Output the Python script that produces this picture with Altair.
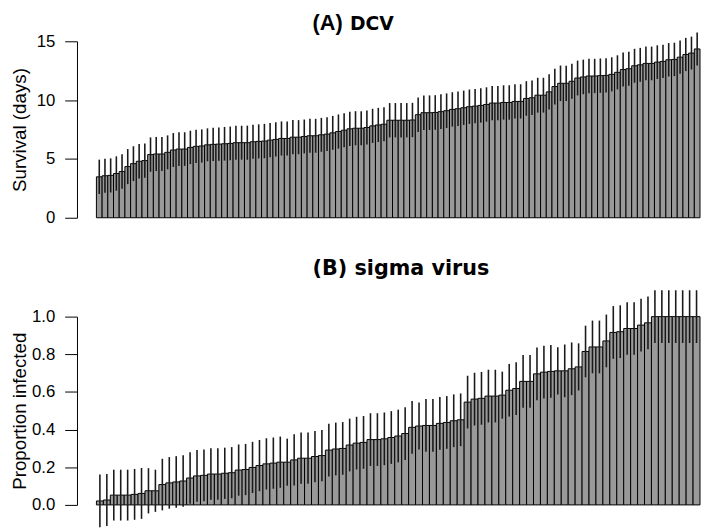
import altair as alt
import pandas as pd

# (A) DCV: mean survival (days) per line, sorted, and its standard error
dcv_mean = [3.48, 3.57, 3.60, 3.76, 3.93, 4.35, 4.60, 4.80, 4.86, 5.37,
            5.42, 5.42, 5.56, 5.76, 5.84, 5.84, 5.98, 6.07, 6.10, 6.20,
            6.24, 6.26, 6.29, 6.32, 6.38, 6.38, 6.38, 6.46, 6.49, 6.52,
            6.60, 6.66, 6.74, 6.74, 6.85, 6.85, 6.91, 6.97, 6.97, 7.05,
            7.11, 7.22, 7.33, 7.44, 7.56, 7.61, 7.61, 7.67, 7.81, 7.89,
            7.95, 8.29, 8.29, 8.29, 8.29, 8.31, 8.76, 8.93, 8.93, 8.95,
            9.02, 9.10, 9.21, 9.27, 9.35, 9.44, 9.49, 9.55, 9.63, 9.75,
            9.75, 9.80, 9.80, 9.89, 9.89, 10.14, 10.20, 10.42, 10.42, 10.70,
            11.15, 11.43, 11.43, 11.60, 11.88, 11.97, 12.05, 12.05, 12.08, 12.10,
            12.19, 12.36, 12.60, 12.67, 12.92, 13.00, 13.12, 13.12, 13.23, 13.29,
            13.43, 13.46, 13.65, 13.88, 14.00, 14.35]
dcv_se = [1.46, 1.45, 1.45, 1.46, 1.47, 1.49, 1.48, 1.47, 1.46, 1.46,
          1.45, 1.45, 1.44, 1.44, 1.43, 1.43, 1.42, 1.42, 1.41, 1.40,
          1.41, 1.42, 1.43, 1.43, 1.44, 1.44, 1.45, 1.45, 1.45, 1.46,
          1.46, 1.46, 1.45, 1.45, 1.45, 1.45, 1.44, 1.44, 1.44, 1.44,
          1.44, 1.44, 1.45, 1.45, 1.45, 1.45, 1.45, 1.45, 1.45, 1.45,
          1.45, 1.46, 1.46, 1.46, 1.46, 1.46, 1.47, 1.47, 1.47, 1.47,
          1.47, 1.47, 1.46, 1.46, 1.46, 1.46, 1.46, 1.46, 1.46, 1.46,
          1.46, 1.46, 1.46, 1.46, 1.46, 1.47, 1.47, 1.48, 1.48, 1.50,
          1.52, 1.51, 1.50, 1.49, 1.48, 1.47, 1.46, 1.46, 1.46, 1.46,
          1.45, 1.45, 1.45, 1.44, 1.44, 1.44, 1.43, 1.43, 1.43, 1.42,
          1.42, 1.42, 1.41, 1.41, 1.40, 1.40]

# (B) sigma virus: proportion infected per line, sorted, and its standard error
sigma_mean = [0.021, 0.026, 0.052, 0.052, 0.052, 0.056, 0.061, 0.075, 0.075, 0.108,
              0.117, 0.122, 0.127, 0.143, 0.154, 0.157, 0.164, 0.164, 0.168, 0.171,
              0.185, 0.188, 0.199, 0.209, 0.218, 0.222, 0.227, 0.227, 0.239, 0.248,
              0.248, 0.257, 0.262, 0.291, 0.297, 0.300, 0.318, 0.328, 0.332, 0.347,
              0.347, 0.351, 0.358, 0.366, 0.379, 0.412, 0.419, 0.422, 0.422, 0.433,
              0.438, 0.447, 0.452, 0.546, 0.562, 0.566, 0.578, 0.578, 0.583, 0.609,
              0.618, 0.656, 0.656, 0.696, 0.705, 0.709, 0.712, 0.712, 0.723, 0.733,
              0.815, 0.839, 0.839, 0.871, 0.916, 0.920, 0.937, 0.937, 0.955, 0.967,
              1.000, 1.000, 1.000, 1.000, 1.000, 1.000, 1.000]
sigma_se = [0.140, 0.138, 0.135, 0.135, 0.135, 0.135, 0.135, 0.120, 0.112, 0.137,
            0.137, 0.137, 0.137, 0.137, 0.137, 0.137, 0.137, 0.137, 0.136, 0.136,
            0.136, 0.136, 0.136, 0.136, 0.136, 0.136, 0.136, 0.125, 0.136, 0.136,
            0.136, 0.136, 0.136, 0.140, 0.140, 0.140, 0.140, 0.140, 0.140, 0.140,
            0.140, 0.140, 0.140, 0.140, 0.140, 0.140, 0.125, 0.140, 0.140, 0.140,
            0.140, 0.140, 0.140, 0.140, 0.140, 0.140, 0.140, 0.140, 0.125, 0.140,
            0.140, 0.140, 0.140, 0.140, 0.140, 0.140, 0.125, 0.140, 0.140, 0.125,
            0.137, 0.140, 0.140, 0.140, 0.140, 0.140, 0.140, 0.140, 0.140, 0.140,
            0.140, 0.140, 0.140, 0.140, 0.140, 0.140, 0.140]

LABEL_FONT = "Liberation Sans"
TITLE_FONT = "DejaVu Sans"
PLOT_W = 632

# panel titles: (text, font, size, x offset from plot left, baseline offset from plot top)
titles_a = [("(A)", LABEL_FONT, 22, 239, -11.5), ("DCV", TITLE_FONT, 19, 277, -11.5)]
titles_b = [("(B) sigma virus", TITLE_FONT, 21, 239, -42)]


def panel(mean, se, gap, height, ydomain, yvalues, yfmt, ytitle, titles):
    n = len(mean)
    df = pd.DataFrame({"m": mean, "se": se})
    df["x0"] = range(n)
    df["x1"] = df["x0"] + 1
    df["xc"] = df["x0"] + 0.5
    df["lo"] = df["m"] - df["se"]
    df["hi"] = df["m"] + df["se"]

    xscale = alt.Scale(domain=[-gap, n], nice=False, zero=False)
    yscale = alt.Scale(domain=ydomain, nice=False, zero=True)
    yaxis = alt.Axis(values=yvalues, format=yfmt, grid=False, tickSize=12.5,
                     tickColor="black", domainColor="black", tickWidth=1,
                     domainWidth=1, labelFont=LABEL_FONT, labelFontSize=17,
                     labelColor="black", labelPadding=10, labelAngle=0,
                     title=ytitle, titleFont=LABEL_FONT, titleFontSize=19,
                     titleFontWeight="normal", titleColor="black",
                     titleAngle=270, titleBaseline="bottom", titleAlign="center",
                     titleX=-48, titleY=height / 2)

    base = alt.Chart(df)
    bars = base.mark_bar(fill="#999999", stroke="black", strokeWidth=1).encode(
        x=alt.X("x0:Q", scale=xscale, axis=None),
        x2="x1:Q",
        y=alt.Y("m:Q", scale=yscale, axis=yaxis),
        y2=alt.datum(0),
    )
    errs = base.mark_rule(color="#1a1a1a", strokeWidth=1.6).encode(
        x=alt.X("xc:Q", scale=xscale, axis=None),
        y=alt.Y("lo:Q", scale=yscale, axis=yaxis),
        y2="hi:Q",
    )
    layers = [bars, errs]
    for text, font, size, tx, ty in titles:
        layers.append(
            alt.Chart(pd.DataFrame({"t": [text]})).mark_text(
                font=font, fontSize=size, fontWeight="bold", color="black",
                align="left", baseline="alphabetic",
            ).encode(x=alt.value(tx), y=alt.value(ty), text="t:N")
        )
    return alt.layer(*layers).properties(width=PLOT_W, height=height)


top = panel(dcv_mean, dcv_se, 3.41, 179, [0, 15], [0, 5, 10, 15], "d",
            "Survival (days)", titles_a)
bottom = panel(sigma_mean, sigma_se, 2.8, 191, [0, 1], [0, 0.2, 0.4, 0.6, 0.8, 1.0],
               ".1f", "Proportion infected", titles_b)

chart = alt.vconcat(top, bottom, spacing=100.3, bounds="flush").properties(
    padding={"left": 3, "top": 0, "right": 0, "bottom": 0}
).configure_view(stroke=None)

chart.save("out.html", embed_options={"renderer": "svg", "actions": False})
